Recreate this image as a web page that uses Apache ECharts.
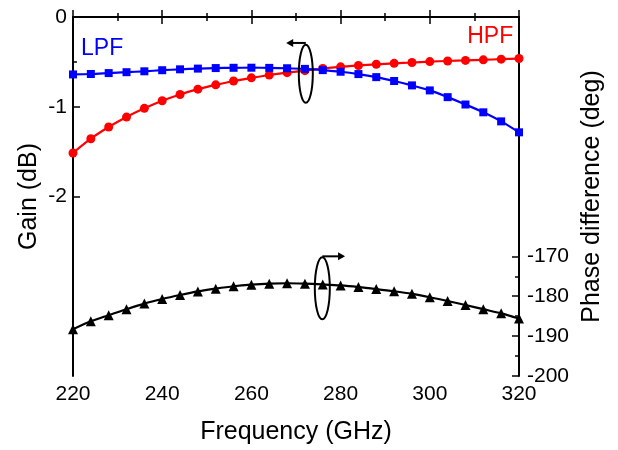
<!DOCTYPE html>
<html>
<head>
<meta charset="utf-8">
<script src="https://cdn.jsdelivr.net/npm/echarts@6/dist/echarts.min.js"></script>
<style>
  html, body { margin: 0; padding: 0; background: #fff; }
  #chart { width: 618px; height: 450px; }
</style>
</head>
<body>
<div id="chart"></div>
<script>
// frequency points (GHz)
const freq = [220, 224, 228, 232, 236, 240, 244, 248, 252, 256, 260, 264, 268,
              272, 276, 280, 284, 288, 292, 296, 300, 304, 308, 312, 316, 320];
// gain (dB), left axis
const lpfGain = [-0.64, -0.635, -0.625, -0.615, -0.605, -0.593, -0.583, -0.575, -0.569, -0.566, -0.565, -0.567, -0.571,
                 -0.578, -0.592, -0.61, -0.636, -0.67, -0.713, -0.762, -0.818, -0.893, -0.975, -1.062, -1.163, -1.285];
const hpfGain = [-1.515, -1.356, -1.226, -1.115, -1.018, -0.933, -0.863, -0.804, -0.756, -0.713, -0.678, -0.646, -0.62,
                 -0.598, -0.574, -0.555, -0.54, -0.527, -0.516, -0.507, -0.497, -0.49, -0.484, -0.477, -0.47, -0.463];
// phase difference (deg), right axis
const phase = [-188.3, -186.3, -184.75, -183.25, -181.85, -180.7, -179.7, -178.8, -178.1, -177.5, -177.1, -176.85, -176.75,
               -176.85, -177.05, -177.3, -177.7, -178.2, -178.75, -179.4, -180.25, -181.2, -182.2, -183.25, -184.3, -185.6];

const xTicks = [220, 240, 260, 280, 300, 320];
const gainTicks = [0, -1, -2];
const gainMinor = [-0.5, -1.5];
const phaseTicks = [-200, -190, -180, -170];
const phaseMinor = [-195, -185, -175];

const FONT = 'Arial, "Liberation Sans", sans-serif';
const chart = echarts.init(document.getElementById('chart'));

function pairs(ys) {
    return freq.map((f, i) => [f, ys[i]]);
}

const xBase = {
    type: 'value', min: 220, max: 320, interval: 20,
    axisLine: {lineStyle: {color: '#000', width: 2}},
    axisTick: {inside: true, length: 7, lineStyle: {color: '#000', width: 1.5}},
    minorTick: {show: true, splitNumber: 2, length: 4, lineStyle: {color: '#000', width: 1.5}},
    splitLine: {show: false}
};

const yHidden = {
    axisLine: {show: false},
    axisLabel: {show: false},
    splitLine: {show: false}
};

const option = {
    animation: false,
    backgroundColor: '#fff',
    grid: {left: 73, right: 99, top: 17, bottom: 74},
    xAxis: [
        Object.assign({}, xBase, {
            position: 'bottom',
            name: 'Frequency (GHz)',
            nameLocation: 'middle',
            nameGap: 44,
            nameTextStyle: {fontFamily: FONT, fontSize: 25, color: '#000'},
            axisLabel: {fontFamily: FONT, fontSize: 21, color: '#000', margin: 8,
                customValues: xTicks}
        }),
        Object.assign({}, xBase, {
            position: 'top',
            axisLabel: {show: false}
        })
    ],
    yAxis: [
        {
            type: 'value', min: -4, max: 0, position: 'left',
            name: 'Gain (dB)',
            nameLocation: 'middle',
            nameGap: 31,
            nameMoveOverlap: false,
            nameTextStyle: {fontFamily: FONT, fontSize: 25, color: '#000'},
            axisLine: {lineStyle: {color: '#000', width: 2}},
            axisTick: {inside: true, length: 7, customValues: gainTicks, lineStyle: {color: '#000', width: 1.5}},
            axisLabel: {fontFamily: FONT, fontSize: 21, color: '#000', margin: 6, customValues: gainTicks},
            splitLine: {show: false}
        },
        {
            type: 'value', min: -200, max: -110, position: 'right',
            name: 'Phase difference (deg)',
            nameLocation: 'middle',
            nameGap: 58,
            nameRotate: 90,
            nameTextStyle: {fontFamily: FONT, fontSize: 25, color: '#000'},
            axisLine: {lineStyle: {color: '#000', width: 2}},
            axisTick: {inside: true, length: 7, customValues: phaseTicks, lineStyle: {color: '#000', width: 1.5}},
            axisLabel: {fontFamily: FONT, fontSize: 21, color: '#000', margin: 8, customValues: phaseTicks},
            splitLine: {show: false}
        },
        Object.assign({}, yHidden, {
            type: 'value', min: -4, max: 0, position: 'left',
            axisTick: {inside: true, length: 4, customValues: gainMinor, lineStyle: {color: '#000', width: 1.5}}
        }),
        Object.assign({}, yHidden, {
            type: 'value', min: -200, max: -110, position: 'right',
            axisTick: {inside: true, length: 4, customValues: phaseMinor, lineStyle: {color: '#000', width: 1.5}}
        })
    ],
    series: [
        {
            name: 'LPF', type: 'line', yAxisIndex: 0, data: pairs(lpfGain),
            smooth: 0.3, symbol: 'rect', symbolSize: 8,
            lineStyle: {color: '#0000ff', width: 2.2}, itemStyle: {color: '#0000ff'}, z: 3
        },
        {
            name: 'HPF', type: 'line', yAxisIndex: 0, data: pairs(hpfGain),
            smooth: 0.3, symbol: 'circle', symbolSize: 9,
            lineStyle: {color: '#ff0000', width: 2.2}, itemStyle: {color: '#ff0000'}, z: 2
        },
        {
            name: 'Phase', type: 'line', yAxisIndex: 1, data: pairs(phase),
            smooth: 0.3, symbol: 'triangle', symbolSize: 10,
            lineStyle: {color: '#000', width: 2.2}, itemStyle: {color: '#000'}, z: 2
        }
    ]
};

chart.setOption(option);

// annotations, placed in data coordinates
const gainPx = p => chart.convertToPixel({xAxisIndex: 0, yAxisIndex: 0}, p);
const phasePx = p => chart.convertToPixel({xAxisIndex: 0, yAxisIndex: 1}, p);

const lpfPos = gainPx([221.8, -0.356]);
const hpfPos = gainPx([318.7, -0.222]);
const e1 = gainPx([272.2, -0.633]);
const a1 = gainPx([267.8, -0.289]);
const e2 = phasePx([275.9, -178]);
const a2 = phasePx([281, -170]);

const ink = {stroke: '#000', lineWidth: 2, fill: null};
chart.setOption({
    graphic: [
        {type: 'text', x: lpfPos[0], y: lpfPos[1],
            style: {text: 'LPF', fill: '#0000ff', font: '23px ' + FONT, textVerticalAlign: 'middle'}},
        {type: 'text', x: hpfPos[0], y: hpfPos[1],
            style: {text: 'HPF', fill: '#ff0000', font: '23px ' + FONT, textAlign: 'right', textVerticalAlign: 'middle'}},
        {type: 'ellipse', shape: {cx: e1[0], cy: e1[1], rx: 7, ry: 29}, style: ink, z: 10},
        {type: 'polyline', shape: {points: [[e1[0], a1[1]], [a1[0] + 2, a1[1]]]}, style: ink, z: 10},
        {type: 'polygon', shape: {points: [[a1[0], a1[1]], [a1[0] + 7, a1[1] - 4], [a1[0] + 7, a1[1] + 4]]},
            style: {fill: '#000'}, z: 10},
        {type: 'ellipse', shape: {cx: e2[0], cy: e2[1], rx: 7.5, ry: 31}, style: ink, z: 10},
        {type: 'polyline', shape: {points: [[e2[0], a2[1]], [a2[0] - 2, a2[1]]]}, style: ink, z: 10},
        {type: 'polygon', shape: {points: [[a2[0], a2[1]], [a2[0] - 7, a2[1] - 4], [a2[0] - 7, a2[1] + 4]]},
            style: {fill: '#000'}, z: 10}
    ]
});
</script>
</body>
</html>
